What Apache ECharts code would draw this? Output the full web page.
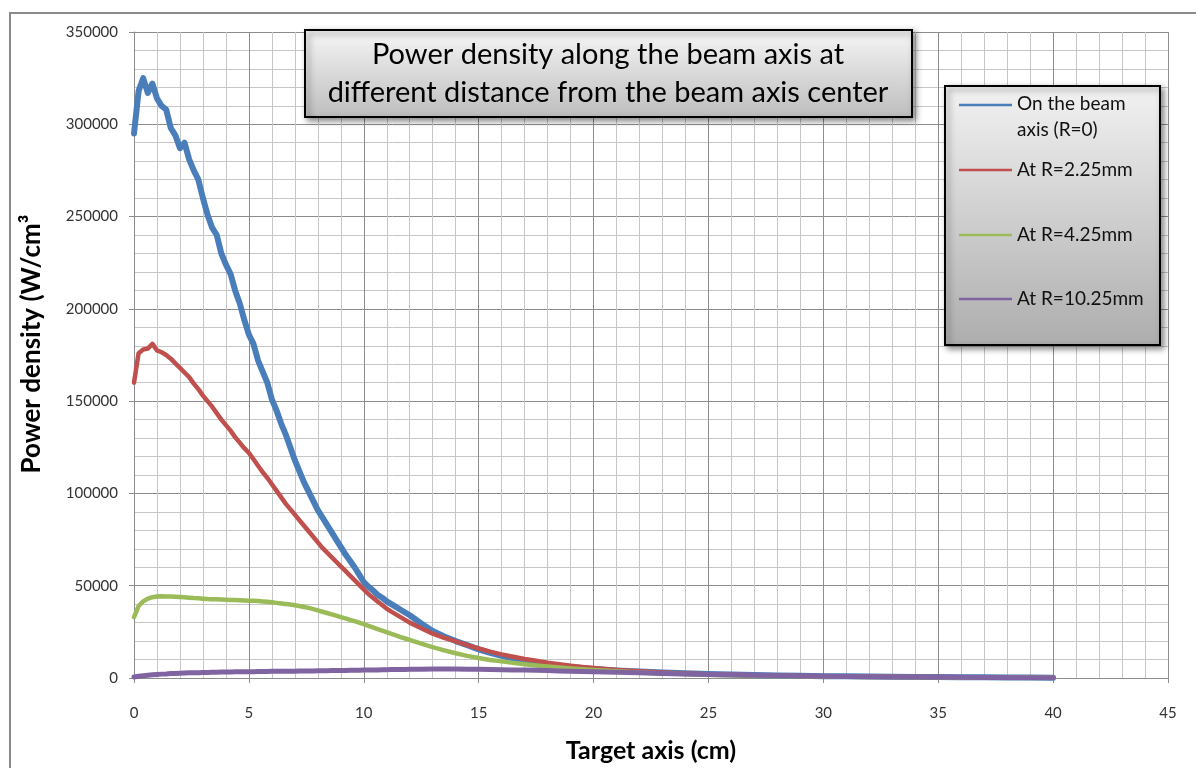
<!DOCTYPE html>
<html>
<head>
<meta charset="utf-8">
<style>
  html, body { margin: 0; padding: 0; background: #ffffff; }
  #chart { width: 1196px; height: 768px; }
</style>
<script src="https://cdn.jsdelivr.net/npm/echarts@6/dist/echarts.min.js"></script>
</head>
<body>
<div id="chart"></div>
<script>
// ---- Data ----
const seriesNames = ['On the beam\naxis (R=0)', 'At R=2.25mm', 'At R=4.25mm', 'At R=10.25mm'];

// Target axis positions (cm)
const xCm = [
  0, 0.2, 0.4, 0.6, 0.8, 1.0, 1.2, 1.4, 1.6, 1.8,
  2.0, 2.2, 2.4, 2.6, 2.8, 3.0, 3.2, 3.4, 3.6, 3.8,
  4.0, 4.2, 4.4, 4.6, 4.8, 5.0, 5.2, 5.4, 5.6, 5.8,
  6.0, 6.2, 6.4, 6.6, 6.8, 7.0, 7.2, 7.4, 7.6, 7.8,
  8.0, 8.2, 8.4, 8.6, 8.8, 9.0, 9.2, 9.4, 9.6, 9.8,
  10.0, 10.2, 10.4, 10.6, 10.8, 11.0, 11.2, 11.4, 11.6, 11.8,
  12.0, 12.5, 13, 13.5, 14, 14.5, 15, 15.5, 16, 16.5,
  17, 17.5, 18, 18.5, 19, 19.5, 20, 21, 22, 23,
  24, 25, 26, 27, 28, 29, 30, 31, 32, 33,
  34, 35, 36, 37, 38, 39, 40
];

// On the beam axis (R=0)
const densityR0 = [
  295000, 318000, 325000, 317000, 322000, 314000, 310000, 308000, 298000, 294000,
  287000, 290000, 281000, 275000, 270000, 260000, 251000, 244000, 240000, 230000,
  224000, 219000, 210000, 203000, 194000, 186000, 181000, 172000, 166000, 160000,
  151000, 145000, 138000, 132000, 125000, 118000, 112000, 106000, 101000, 96000,
  91000, 87000, 83000, 79000, 75000, 71000, 67000, 63500, 60000, 56000,
  52000, 49500, 47500, 45000, 43500, 41500, 40000, 38500, 37000, 35500,
  34000, 29500, 25500, 22500, 20000, 17800, 15500, 13600, 12000, 10600,
  9400, 8400, 7500, 6700, 6000, 5400, 4900, 4100, 3500, 3000,
  2600, 2200, 1900, 1600, 1400, 1200, 1000, 900, 800, 700,
  600, 500, 400, 350, 300, 250, 200
];

// At R = 2.25 mm
const densityR225 = [
  160000, 176000, 178000, 178500, 181000, 177500, 176500, 175000, 173000, 170500,
  168000, 165500, 163000, 159500, 156500, 153000, 150000, 147000, 143500, 140000,
  137000, 134000, 130500, 127500, 124500, 122000, 118500, 115000, 111500, 108500,
  105000, 101500, 98000, 94500, 91500, 88500, 85500, 82500, 79500, 76500,
  73500, 70500, 68000, 65500, 63000, 60500, 58000, 55500, 53000, 50500,
  48000, 45500, 43500, 41500, 39500, 37500, 36000, 34500, 33000, 31500,
  30000, 27000, 24000, 21800, 19800, 17800, 16000, 14300, 12800, 11500,
  10300, 9300, 8300, 7500, 6700, 6000, 5400, 4400, 3600, 3000,
  2500, 2100, 1800, 1500, 1300, 1100, 950, 850, 750, 650,
  550, 480, 420, 360, 320, 280, 250
];

// At R = 4.25 mm
const densityR425 = [
  33000, 39000, 41500, 43000, 43800, 44200, 44300, 44200, 44100, 44000,
  43900, 43700, 43500, 43300, 43200, 43000, 42800, 42700, 42600, 42500,
  42400, 42300, 42200, 42100, 42000, 41900, 41800, 41700, 41500, 41300,
  41000, 40700, 40400, 40100, 39800, 39400, 39000, 38500, 38000, 37300,
  36600, 35900, 35200, 34500, 33800, 33000, 32300, 31500, 30800, 30000,
  29200, 28300, 27400, 26500, 25700, 24800, 23900, 23100, 22200, 21400,
  20600, 18600, 16700, 15000, 13400, 12000, 10800, 9800, 9000, 8200,
  7500, 6800, 6200, 5700, 5200, 4700, 4300, 3600, 3000, 2500,
  2100, 1800, 1500, 1300, 1100, 950, 800, 700, 600, 520,
  450, 390, 340, 300, 260, 230, 200
];

// At R = 10.25 mm
const densityR1025 = [
  500, 900, 1200, 1500, 1700, 1900, 2100, 2200, 2400, 2500,
  2600, 2700, 2800, 2850, 2900, 2950, 3000, 3050, 3100, 3200,
  3300, 3300, 3350, 3400, 3400, 3450, 3450, 3500, 3500, 3550,
  3600, 3600, 3650, 3650, 3700, 3700, 3750, 3750, 3800, 3850,
  3900, 3950, 3950, 4000, 4050, 4100, 4100, 4150, 4200, 4250,
  4300, 4350, 4400, 4400, 4450, 4500, 4550, 4600, 4600, 4650,
  4700, 4800, 4900, 4900, 4900, 4800, 4700, 4600, 4500, 4400,
  4300, 4150, 4000, 3850, 3700, 3550, 3400, 3100, 2800, 2500,
  2200, 1900, 1700, 1500, 1300, 1100, 950, 800, 700, 600,
  500, 400, 350, 300, 250, 200, 150
];

const seriesColors = ['#4a7ebb', '#c0504d', '#9bbb59', '#8064a2'];
const seriesWidths = [6, 4.5, 4.5, 5];
const seriesValues = [densityR0, densityR225, densityR425, densityR1025];

const xTicks = { min: 0, max: 45, interval: 5 };
const yTicks = { min: 0, max: 350000, interval: 50000 };

const titleText = 'Power density along the beam axis at\ndifferent distance from the beam axis center';
const xTitle = 'Target axis (cm)';
const yTitle = 'Power density (W/cm\u00B3';

// ---- Chart ----
const FONT = 'Lato, "Open Sans", sans-serif';
const chart = echarts.init(document.getElementById('chart'), null, { renderer: 'canvas' });

const series = seriesNames.map((name, s) => ({
  name: name,
  type: 'line',
  data: xCm.map((x, i) => [x, seriesValues[s][i]]),
  symbol: 'none',
  showSymbol: false,
  smooth: false,
  color: seriesColors[s],
  lineStyle: { color: seriesColors[s], width: seriesWidths[s], join: 'round', cap: 'round' },
  emphasis: { disabled: true },
  animation: false,
  z: 2 + s
}));

// legend: line icon; the first (two-line) entry keeps its line level with the first text line
const legendIconLine = 'path://M0,0L53,0L53,2.6L0,2.6Z';
const legendIconTall = 'path://M0,0L53,0L53,2.6L0,2.6ZM0,26';
const legendLineCenters = [105, 170, 235, 299];
const legends = seriesNames.map((name, i) => ({
  left: 959,
  top: i === 0 ? legendLineCenters[i] - 1.3 - 13 : legendLineCenters[i] - 13,
  padding: 0,
  orient: 'vertical',
  icon: i === 0 ? legendIconTall : legendIconLine,
  itemWidth: 53,
  itemHeight: i === 0 ? 26 : 2.6,
  itemGap: 0,
  z: 6,
  selectedMode: false,
  textStyle: { fontFamily: FONT, fontSize: 19, color: '#111', lineHeight: 26 },
  data: [name]
}));

const option = {
  backgroundColor: '#ffffff',
  animation: false,
  title: {
    text: titleText,
    left: 608,
    top: 36,
    textAlign: 'center',
    padding: 0,
    z: 6,
    textStyle: { fontFamily: FONT, fontSize: 29, fontWeight: 'normal', color: '#000', lineHeight: 38 }
  },
  legend: legends,
  grid: { left: 134, right: 28, top: 32, bottom: 87, containLabel: false },
  xAxis: {
    type: 'value',
    min: xTicks.min, max: xTicks.max, interval: xTicks.interval,
    name: xTitle,
    nameLocation: 'middle',
    nameGap: 60,
    nameTextStyle: { fontFamily: FONT, fontSize: 25, fontWeight: 'bold', color: '#000' },
    axisLine: { show: true, onZero: false, lineStyle: { color: '#8c8c8c', width: 1 } },
    axisTick: { show: true, length: 5, lineStyle: { color: '#8c8c8c' } },
    axisLabel: { margin: 28, fontFamily: FONT, fontSize: 15, color: '#333' },
    splitLine: { show: true, lineStyle: { color: '#8c8c8c', width: 1 } },
    minorTick: { show: false, splitNumber: 5 },
    minorSplitLine: { show: true, lineStyle: { color: '#c6c6c6', width: 1 } }
  },
  yAxis: {
    type: 'value',
    min: yTicks.min, max: yTicks.max, interval: yTicks.interval,
    name: yTitle,
    nameLocation: 'middle',
    nameGap: 89,
    nameTextStyle: { fontFamily: FONT, fontSize: 26, fontWeight: 'bold', color: '#000', padding: [0, 0, 0, 22] },
    axisLine: { show: true, lineStyle: { color: '#8c8c8c', width: 1 } },
    axisTick: { show: true, length: 5, lineStyle: { color: '#8c8c8c' } },
    axisLabel: { margin: 16, fontFamily: FONT, fontSize: 15, color: '#333', formatter: v => String(v) },
    splitLine: { show: true, lineStyle: { color: '#8c8c8c', width: 1 } },
    minorTick: { show: false, splitNumber: 5 },
    minorSplitLine: { show: true, lineStyle: { color: '#c6c6c6', width: 1 } }
  },
  graphic: [
    {
      type: 'rect', silent: true, z: 0,
      shape: { x: 10, y: 13, width: 1260, height: 820 },
      style: { fill: 'none', stroke: '#8a8a8a', lineWidth: 2 }
    },
    {
      type: 'rect', silent: true, z: 3,
      shape: { x: 305, y: 30, width: 607, height: 87 },
      style: {
        fill: new echarts.graphic.LinearGradient(0, 0, 0, 1, [
          { offset: 0, color: '#f6f6f6' }, { offset: 1, color: '#bdbdbd' }
        ]),
        stroke: '#000', lineWidth: 2,
        shadowBlur: 6, shadowOffsetX: 3, shadowOffsetY: 3, shadowColor: 'rgba(0,0,0,0.45)'
      }
    },
    {
      type: 'rect', silent: true, z: 3,
      shape: { x: 945, y: 86, width: 215, height: 259 },
      style: {
        fill: new echarts.graphic.LinearGradient(0, 0, 0, 1, [
          { offset: 0, color: '#f2f2f2' }, { offset: 1, color: '#adadad' }
        ]),
        stroke: '#000', lineWidth: 2,
        shadowBlur: 6, shadowOffsetX: 3, shadowOffsetY: 3, shadowColor: 'rgba(0,0,0,0.45)'
      }
    }
  ],
  series: series
};

chart.setOption(option);
</script>
</body>
</html>
